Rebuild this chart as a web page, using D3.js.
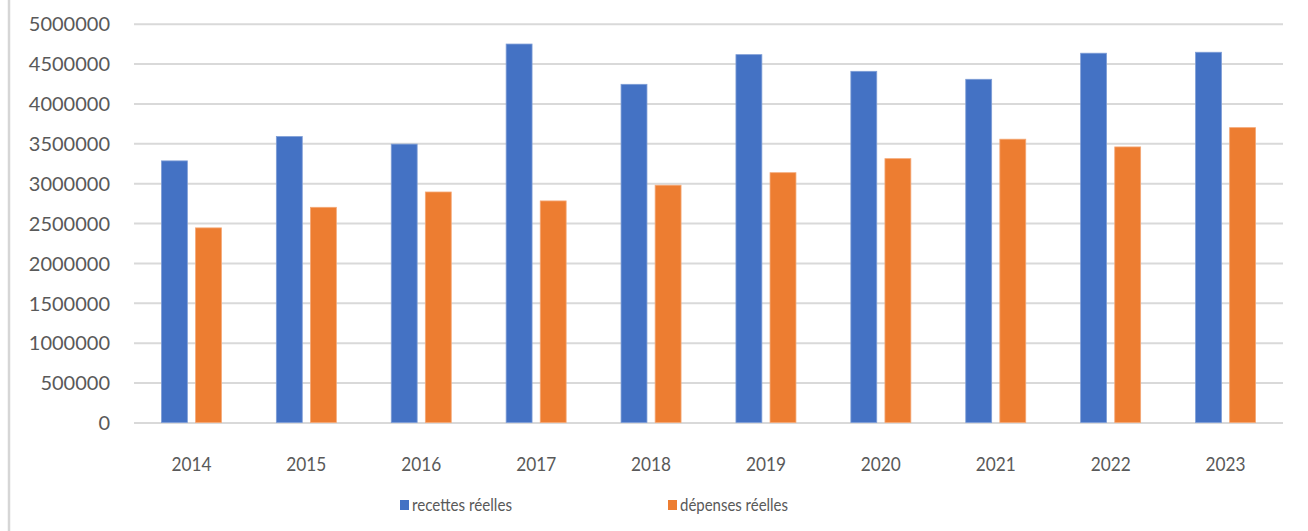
<!DOCTYPE html>
<html lang="fr">
<head>
<meta charset="utf-8"/>
<title>Recettes et dépenses réelles</title>
<script src="https://d3js.org/d3.v7.min.js"></script>
<style>
  body { margin: 0; background: #fff; }
  svg text { font-family: Lato, "Open Sans", sans-serif; fill: #595959; }
</style>
</head>
<body>
<svg id="chart" width="1308" height="531"></svg>
<script>
// data
const years = ["2014","2015","2016","2017","2018","2019","2020","2021","2022","2023"]
const seriesNames = ["recettes réelles", "dépenses réelles"]
const recettes = [3280000, 3585000, 3490000, 4745000, 4240000, 4612000, 4403000, 4303000, 4630000, 4642000]
const depenses = [2440000, 2698000, 2890000, 2778000, 2975000, 3132000, 3308000, 3552000, 3455000, 3697000]
const yTicks = [0, 500000, 1000000, 1500000, 2000000, 2500000, 3000000, 3500000, 4000000, 4500000, 5000000]
const colors = ["#4472C4", "#ED7D31"]
const strokes = ["#7E9DD6", "#F4A877"]

const svg = d3.select("#chart")
const plotL = 134, plotR = 1283, plotT = 23.7, plotB = 422.5

// chart border on the left
svg.append("line").attr("x1", 9).attr("x2", 9).attr("y1", 0).attr("y2", 531)
   .attr("stroke", "#d6d6d6").attr("stroke-width", 2.5)

const x = d3.scaleBand().domain(years).range([plotL, plotR])
const y = d3.scaleLinear().domain([0, 5000000]).range([plotB, plotT])
const bw = x.bandwidth()
const xs = d3.scaleBand().domain(seriesNames).range([bw/2 - 30, bw/2 + 30]).paddingInner(0.24)

// gridlines + y labels
const yAxis = svg.append("g").attr("transform", `translate(${plotL},0)`)
  .call(d3.axisLeft(y).tickValues(yTicks).tickFormat(d3.format("d"))
          .tickSize(-(plotR - plotL)).tickPadding(24))
yAxis.select(".domain").remove()
yAxis.selectAll(".tick line").attr("stroke", "#d9d9d9").attr("stroke-width", 2)
yAxis.selectAll(".tick text").style("font-size", "20px").attr("dy", "0.36em")

// bars
const table = years.map((yr, i) => ({ year: yr, values: [recettes[i], depenses[i]] }))
const groups = svg.append("g").selectAll("g").data(table).join("g")
  .attr("transform", d => `translate(${x(d.year)},0)`)
groups.selectAll("rect")
  .data(d => d.values.map((v, k) => ({ name: seriesNames[k], v, k })))
  .join("rect")
  .attr("x", d => xs(d.name))
  .attr("width", xs.bandwidth())
  .attr("y", d => y(d.v))
  .attr("height", d => y(0) - y(d.v))
  .attr("fill", d => colors[d.k])
  .attr("stroke", d => strokes[d.k])
  .attr("stroke-width", 0.8)

// x labels (narrower than the y labels in the original)
svg.append("g").selectAll("text").data(years).join("text")
  .attr("x", d => x(d) + bw/2)
  .attr("y", 470.5)
  .attr("text-anchor", "middle")
  .attr("textLength", 40)
  .attr("lengthAdjust", "spacingAndGlyphs")
  .style("font-size", "20px")
  .text(d => d)

// legend
const legendX = [400, 668]
const legendW = [100, 108]
const leg = svg.append("g").selectAll("g").data(seriesNames).join("g")
  .attr("transform", (d, i) => `translate(${legendX[i]},500)`)
leg.append("rect").attr("width", 9).attr("height", 10)
  .attr("fill", (d, i) => colors[i])
leg.append("text").attr("x", 12).attr("y", 10.8)
  .attr("textLength", (d, i) => legendW[i])
  .attr("lengthAdjust", "spacingAndGlyphs")
  .style("font-size", "17px")
  .text(d => d)
</script>
</body>
</html>
